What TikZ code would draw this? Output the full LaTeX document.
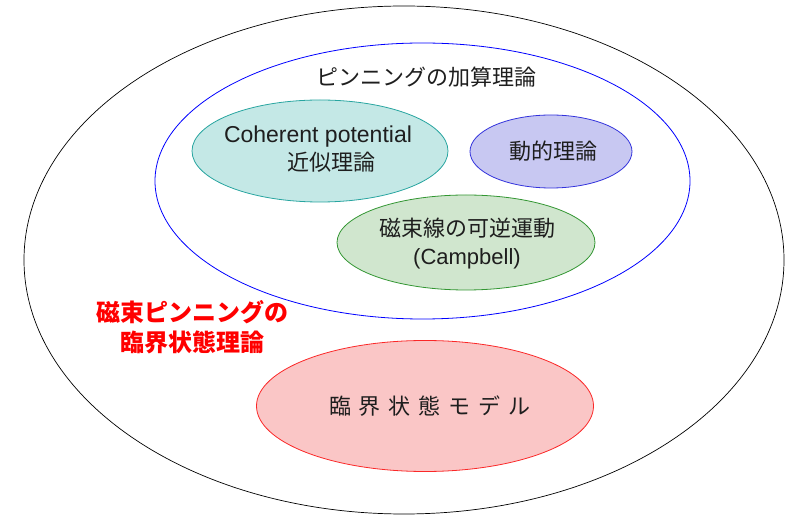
\documentclass[tikz,border=0pt]{standalone}
\usepackage{fontspec}
\setmainfont{Liberation Sans}
\newfontfamily\jp{Noto Sans CJK JP}
\usetikzlibrary{shapes.geometric}
\definecolor{txt}{RGB}{30,30,30}
\definecolor{tealline}{RGB}{40,165,160}
\definecolor{tealfill}{RGB}{196,232,230}
\definecolor{purpline}{RGB}{50,50,220}
\definecolor{purpfill}{RGB}{200,200,242}
\definecolor{grnline}{RGB}{50,150,50}
\definecolor{grnfill}{RGB}{208,230,206}
\definecolor{redline}{RGB}{250,40,40}
\definecolor{redfill}{RGB}{250,198,198}
\tikzset{
  oval/.style={ellipse, draw, line width=0.8pt, inner sep=0pt},
  lbl/.style={text=txt, font=\fontsize{22}{28}\selectfont, align=center, inner sep=0pt},
}
\begin{document}
\begin{tikzpicture}[x=1pt,y=-1pt]
\useasboundingbox (0,0) rectangle (785,518);
\node[oval, draw=black, line width=0.7pt, minimum width=760pt, minimum height=508pt] (outer) at (404,260) {};
\node[oval, draw=blue, line width=0.8pt, minimum width=535pt, minimum height=276pt] (pin) at (422.5,181) {};
\node[oval, draw=tealline, fill=tealfill, minimum width=256pt, minimum height=102pt] (coh) at (320,151) {};
\node[oval, draw=purpline, fill=purpfill, minimum width=162pt, minimum height=73pt] (dyn) at (551,151.5) {};
\node[oval, draw=grnline, fill=grnfill, minimum width=258pt, minimum height=95pt] (camp) at (466,242.5) {};
\node[oval, draw=redline, fill=redfill, minimum width=337pt, minimum height=131pt] (crit) at (425,406) {};

\node[lbl] (title) at (426,77) {\jp ピンニングの加算理論};
\node[lbl] (cohT) at (318,149) {{\fontsize{23}{28}\selectfont Coherent potential}\\\hspace*{26pt}{\jp 近似理論}};
\node[lbl] (dynT) at (553,151) {\jp 動的理論};
\node[lbl] (campT) at (467,244) {{\jp 磁束線の可逆運動}\\(Campbell)};
\node[lbl] (critT) at (430,406) {\jp 臨\kern8pt 界\kern8pt 状\kern8pt 態\kern8pt モ\kern8pt デ\kern8pt ル};
\node[text=red, font=\fontsize{24}{30}\selectfont\jp\bfseries, align=center, inner sep=0pt] (redT) at (192,327) {磁束ピンニングの\\臨界状態理論};
\end{tikzpicture}
\end{document}
